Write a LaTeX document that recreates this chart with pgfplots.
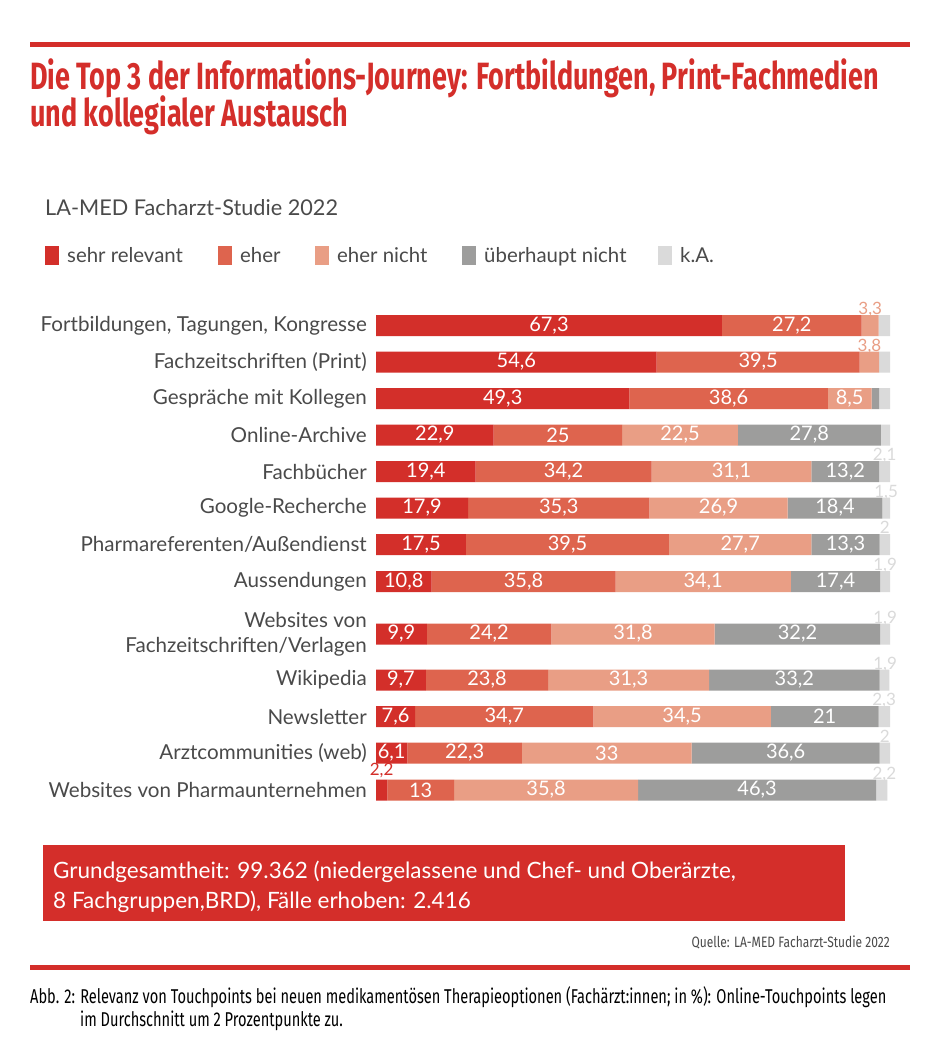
\documentclass[border=0pt]{standalone}
\usepackage{fontspec}
\setmainfont{Lato}
\newfontfamily\titlefont[FakeStretch=0.71]{Fira Sans}
\newfontfamily\capfont[FakeStretch=0.73]{Fira Sans}
\newfontfamily\srcfont[FakeStretch=0.8]{Fira Sans}
\usepackage{pgfplots}
\pgfplotsset{compat=1.18}
\usepackage{pgfplotstable}

\definecolor{lared}{HTML}{D42E2A}
\definecolor{cA}{HTML}{D32F2A}
\definecolor{cB}{HTML}{DE644E}
\definecolor{cC}{HTML}{E99E85}
\definecolor{cD}{HTML}{9D9D9C}
\definecolor{cE}{HTML}{DADADA}
\definecolor{txt}{HTML}{4A4A4A}

% y = Zeilenmitte in px (oben = 0)
\pgfplotstableread{
y     a    b    c    d    e
325.5 67.3 27.2 3.3  0    2.2
362   54.6 39.5 3.8  0    2.1
398.5 49.3 38.6 8.5  1.5  2.1
435   22.9 25   22.5 27.8 1.8
471.5 19.4 34.2 31.1 13.2 2.1
508   17.9 35.3 26.9 18.4 1.5
544.5 17.5 39.5 27.7 13.3 2
581.5 10.8 35.8 34.1 17.4 1.9
634   9.9  24.2 31.8 32.2 1.9
680   9.7  23.8 31.3 33.2 1.9
716.5 7.6  34.7 34.5 21   2.3
753   6.1  22.3 33   36.6 2
790   2.2  13   35.8 46.3 2.2
}\data

\pgfplotsset{
  barframe/.style={at={(376pt,-300pt)}, anchor=north west, width=514pt, height=515pt,
    scale only axis, xmin=0, xmax=100, ymin=300, ymax=815, y dir=reverse},
  inlbl/.style={draw=none, mark=none, nodes near coords align={center},
    every node near coord/.append style={anchor=center, text=white,
      font=\fontsize{20}{22}\selectfont}},
  toplbl/.style={draw=none, mark=none,
    every node near coord/.append style={anchor=base, inner sep=0pt, text=#1,
      font=\fontsize{17}{19}\selectfont}},
}

\begin{document}
\begin{tikzpicture}[x=1pt,y=-1pt]
\fill[white] (0,0) rectangle (930,1048);
\fill[lared] (30,42) rectangle (910,47);
\node[anchor=base west, inner sep=0pt, text=lared, font=\titlefont\bfseries\fontsize{38}{42}\selectfont] at (30,90)
  {Die Top 3 der Informations-Journey: Fortbildungen, Print-Fachmedien};
\node[anchor=base west, inner sep=0pt, text=lared, font=\titlefont\bfseries\fontsize{38}{42}\selectfont] at (30,127)
  {und kollegialer Austausch};
\node[anchor=base west, inner sep=0pt, text=txt, font=\fontsize{21.7}{24}\selectfont] at (45,216)
  {LA-MED Facharzt-Studie 2022};

% Legende
\foreach \xx/\cc/\tt in {45/cA/sehr relevant, 218/cB/eher, 315/cC/eher nicht, 462/cD/überhaupt nicht, 658/cE/k.A.}{
  \fill[\cc] (\xx,246) rectangle ++(14,19);
  \node[anchor=base west, inner sep=0pt, text=txt, font=\fontsize{20.4}{24}\selectfont] at (\xx+22,263) {\tt};
}

\begin{axis}[barframe, xbar stacked, bar width=21pt,
  axis line style={draw=none}, xtick=\empty, major tick length=0pt,
  ytick={325.5,362,398.5,435,471.5,508,544.5,581.5,634,680,716.5,753,790},
  yticklabels={Fortbildungen{,} Tagungen{,} Kongresse, Fachzeitschriften (Print),
    Gespräche mit Kollegen, Online-Archive, Fachbücher, Google-Recherche,
    Pharmareferenten/Außendienst, Aussendungen, {Websites von\\Fachzeitschriften/Verlagen},
    Wikipedia, Newsletter, Arztcommunities (web), Websites von Pharmaunternehmen},
  yticklabel style={align=right, text=txt, inner sep=0pt, xshift=-9pt,
    font=\fontsize{20.6}{25}\selectfont}]
\addplot[fill=cA, draw=none] table[x=a, y=y]{\data};
\addplot[fill=cB, draw=none] table[x=b, y=y]{\data};
\addplot[fill=cC, draw=none] table[x=c, y=y]{\data};
\addplot[fill=cD, draw=none] table[x=d, y=y]{\data};
\addplot[fill=cE, draw=none] table[x=e, y=y]{\data};
\end{axis}

\begin{axis}[barframe, hide axis, clip=false,
  /pgf/number format/assume math mode=true,
  nodes near coords={\pgfmathprintnumber[use comma,fixed,precision=1]{\pgfplotspointmeta}}]
\addplot[inlbl, point meta=\thisrow{a}, restrict expr to domain={\thisrow{a}}{5:101}]
  table[x expr=\thisrow{a}/2, y=y]{\data};
\addplot[inlbl, point meta=\thisrow{b}, restrict expr to domain={\thisrow{b}}{5:101}]
  table[x expr=\thisrow{a}+\thisrow{b}/2, y=y]{\data};
\addplot[inlbl, point meta=\thisrow{c}, restrict expr to domain={\thisrow{c}}{5:101}]
  table[x expr=\thisrow{a}+\thisrow{b}+\thisrow{c}/2, y=y]{\data};
\addplot[inlbl, point meta=\thisrow{d}, restrict expr to domain={\thisrow{d}}{5:101}]
  table[x expr=\thisrow{a}+\thisrow{b}+\thisrow{c}+\thisrow{d}/2, y=y]{\data};
% kleine Werte ueber dem Balken
\addplot[toplbl=cA, point meta=\thisrow{a}, restrict expr to domain={\thisrow{a}}{0:5}]
  table[x expr=\thisrow{a}/2, y expr=\thisrow{y}-15]{\data};
\addplot[toplbl=cC, point meta=\thisrow{c}, restrict expr to domain={\thisrow{c}}{0:5}]
  table[x expr=\thisrow{a}+\thisrow{b}+\thisrow{c}/2, y expr=\thisrow{y}-11]{\data};
\addplot[toplbl=cE, point meta=\thisrow{e}, restrict expr to domain={\thisrow{y}}{460:800}]
  table[x expr=100-\thisrow{e}/2, y expr=\thisrow{y}-11]{\data};
\end{axis}

% Grundgesamtheit
\fill[lared] (43,845) rectangle (845,921);
\node[anchor=base west, inner sep=0pt, text=white, font=\fontsize{22.5}{24}\selectfont] at (53,878)
  {Grundgesamtheit: 99.362 (niedergelassene und Chef- und Oberärzte,};
\node[anchor=base west, inner sep=0pt, text=white, font=\fontsize{22.5}{24}\selectfont] at (53,908)
  {8 Fachgruppen,BRD), Fälle erhoben: 2.416};
\node[anchor=base east, inner sep=0pt, text=txt, font=\srcfont\fontsize{15}{17}\selectfont] at (890,947)
  {Quelle: LA-MED Facharzt-Studie 2022};

\fill[lared] (30,965) rectangle (910,970);
\node[anchor=base west, inner sep=0pt, text=black, font=\capfont\fontsize{20}{22}\selectfont] at (30,1003)
  {Abb. 2: Relevanz von Touchpoints bei neuen medikamentösen Therapieoptionen (Fachärzt:innen; in \%): Online-Touchpoints legen};
\node[anchor=base west, inner sep=0pt, text=black, font=\capfont\fontsize{20}{22}\selectfont] at (80,1026)
  {im Durchschnitt um 2 Prozentpunkte zu.};
\end{tikzpicture}
\end{document}
